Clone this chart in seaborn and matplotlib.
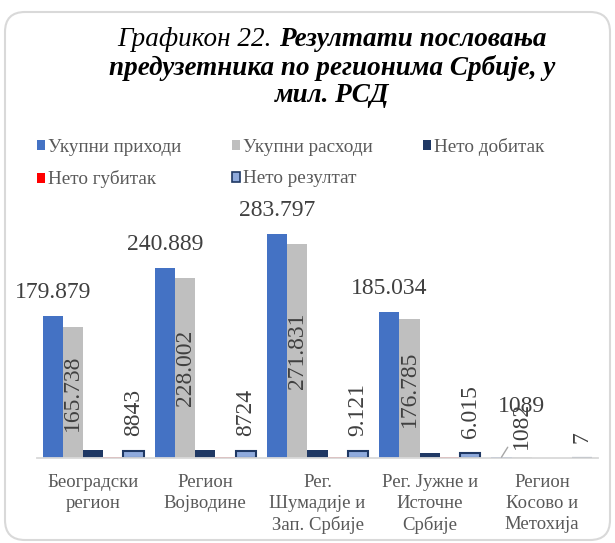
import numpy as np
import pandas as pd
import matplotlib
matplotlib.use("Agg")
import matplotlib.pyplot as plt
import seaborn as sns
from matplotlib.patches import FancyBboxPatch, Patch
from matplotlib.transforms import IdentityTransform

# ---------------- data ----------------
regions = ["Београдски\nрегион", "Регион\nВојводине", "Рег.\nШумадије и\nЗап. Србије",
           "Рег. Јужне и\nИсточне\nСрбије", "Регион\nКосово и\nМетохија"]
series = ["Укупни приходи", "Укупни расходи", "Нето добитак", "Нето губитак", "Нето резултат"]
income = [179879, 240889, 283797, 185034, 1089]
expenses = [165738, 228002, 271831, 176785, 1082]
net_profit = [10100, 9950, 10500, 6800, 25]
net_loss = [1257, 1226, 1379, 785, 18]
net_result = [8843, 8724, 9121, 6015, 7]
income_labels = ["179.879", "240.889", "283.797", "185.034", "1089"]
expense_labels = ["165.738", "228.002", "271.831", "176.785", "1082"]
result_labels = ["8843", "8724", "9.121", "6.015", "7"]
colors = ["#4472C4", "#BFBFBF", "#1F3864", "#FF0000", "#8FAADC"]

values = [income, expenses, net_profit, net_loss, net_result]
df = pd.DataFrame([
    {"region": r, "series": s, "value": v[i]}
    for s, v in zip(series, values)
    for i, r in enumerate(regions)
])

# ---------------- style ----------------
sns.set_style("white")
plt.rcParams["font.family"] = ["Liberation Serif", "DejaVu Serif"]

W, H = 615, 543
fig = plt.figure(figsize=(W / 100, H / 100), dpi=100)
ax = fig.add_axes([37 / W, 85 / H, 561 / W, 260 / H])

sns.barplot(data=df, x="region", y="value", hue="series", order=regions,
            hue_order=series, palette=colors, saturation=1, width=0.9,
            errorbar=None, ax=ax, legend=False)

for cont in ax.containers:
    for p in cont:
        p.set_linewidth(0)
for p in ax.containers[4]:
    p.set_edgecolor("#1F3864")
    p.set_linewidth(1.5)

ax.set_xlim(-0.5, 4.5)
ax.set_ylim(0, 330000)
ax.set_xlabel("")
ax.set_ylabel("")
ax.set_yticks([])
for s in ["left", "top", "right"]:
    ax.spines[s].set_visible(False)
ax.spines["bottom"].set_color("#D9D9D9")
ax.spines["bottom"].set_linewidth(1.3)
ax.tick_params(axis="x", length=0, pad=11.5, labelsize=13.5, labelcolor="#595959")
for t in ax.get_xticklabels():
    t.set_linespacing(1.3)

lab_color = "#404040"
fs_val = 17

# income labels
inc_off = [(0, 17.3), (0, 17.3), (0, 17.3), (0, 17.3), (14.4, 36.7)]
for i, p in enumerate(ax.containers[0]):
    x = p.get_x() + p.get_width() / 2
    ax.annotate(income_labels[i], (x, p.get_height()), xytext=inc_off[i],
                textcoords="offset points", ha="center", va="center",
                fontsize=fs_val, color=lab_color)

# expense labels (inside bars, rotated)
for i, p in enumerate(ax.containers[1]):
    x = p.get_x() + p.get_width() / 2
    h = p.get_height()
    if i < 4:
        ax.text(x, h / 2, expense_labels[i], rotation=90, ha="center", va="center",
                fontsize=fs_val, color=lab_color)
    else:
        bx = ax.containers[0][i].get_x() + ax.containers[0][i].get_width() / 2
        ax.annotate(expense_labels[i], (bx, h), xytext=(14.4, 23.0),
                    textcoords="offset points", rotation=90, ha="center", va="center",
                    fontsize=fs_val, color=lab_color,
                    arrowprops=dict(arrowstyle="-", color="#A6A6A6", lw=1,
                                    shrinkA=0, shrinkB=0))

# net result labels
for i, p in enumerate(ax.containers[4]):
    x = p.get_x() + p.get_width() / 2
    ax.annotate(result_labels[i], (x, p.get_height()), xytext=(0, 10.8),
                textcoords="offset points", rotation=90, ha="center", va="bottom",
                fontsize=fs_val, color=lab_color)

# legend (row-wise order)
handles = []
for s, c in zip(series, colors):
    if s == "Нето резултат":
        handles.append(Patch(facecolor=c, edgecolor="#1F3864", linewidth=1.2, label=s))
    else:
        handles.append(Patch(facecolor=c, edgecolor="none", label=s))
order = [0, 3, 1, 4, 2]
leg = fig.legend([handles[k] for k in order], [series[k] for k in order],
                 loc="upper left", bbox_to_anchor=(37 / W, 1 - 137.5 / H), ncol=3,
                 frameon=False, fontsize=13.8, handlelength=0.42, handleheight=0.42,
                 handletextpad=0.18, columnspacing=2.6, labelspacing=0.78,
                 borderpad=0, borderaxespad=0)
for t in leg.get_texts():
    t.set_color("#595959")

# title
cx = 332
fs_t = 19.5
fig.canvas.draw()
r = fig.canvas.get_renderer()
t1 = fig.text(0, 1 - 40 / H, "Графикон 22.", style="italic", fontsize=fs_t,
              ha="left", va="center", color="black")
t2 = fig.text(0, 1 - 40 / H, "Резултати пословања", style="italic", weight="bold",
              fontsize=fs_t, ha="left", va="center", color="black")
w1 = t1.get_window_extent(r).width
w2 = t2.get_window_extent(r).width
gap = fs_t * 100 / 72 * 0.25
x0 = cx - (w1 + gap + w2) / 2
t1.set_x(x0 / W)
t2.set_x((x0 + w1 + gap) / W)
fig.text(cx / W, 1 - 68 / H, "предузетника по регионима Србије, у", style="italic",
         weight="bold", fontsize=fs_t, ha="center", va="center", color="black")
fig.text(cx / W, 1 - 96 / H, "мил. РСД", style="italic", weight="bold",
         fontsize=fs_t, ha="center", va="center", color="black")

# chart frame
frame = FancyBboxPatch((5, 3), 605, 528, boxstyle="round,pad=0,rounding_size=20",
                       transform=IdentityTransform(), facecolor="none",
                       edgecolor="#D9D9D9", linewidth=1.5)
fig.add_artist(frame)

fig.savefig("out.png", dpi=100)
